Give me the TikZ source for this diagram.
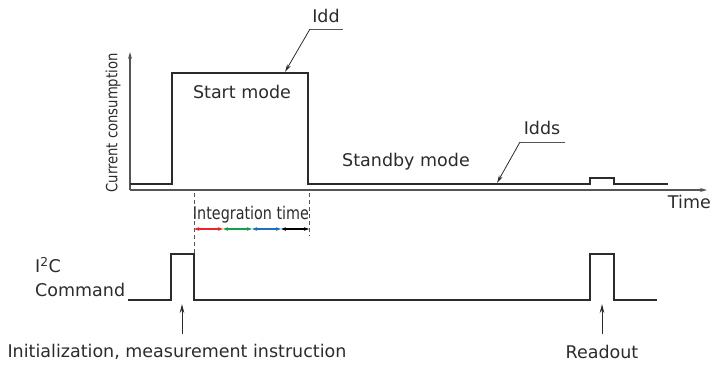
\documentclass[tikz,border=0pt]{standalone}
\usepackage{fontspec}
\usepackage{graphicx}
\setmainfont{DejaVu Sans}
\usetikzlibrary{arrows.meta}

\definecolor{inkgray}{HTML}{2B2B2B}
\definecolor{axisgray}{HTML}{555555}
\definecolor{itred}{HTML}{E8262B}
\definecolor{itgreen}{HTML}{12A14A}
\definecolor{itblue}{HTML}{1E6EC4}

\begin{document}
\begin{tikzpicture}[x=1pt,y=-1pt,
    axis/.style={draw=axisgray,line width=1.4pt,-{Stealth[length=7pt,width=4pt]}},
    signal/.style={draw=inkgray,line width=2.6pt,line join=miter},
    bus/.style={draw=inkgray,line width=1.3pt},
    leader/.style={draw=inkgray,line width=0.8pt,-{Stealth[length=8pt,width=4pt]}},
    underline/.style={draw=axisgray,line width=0.9pt},
    guide/.style={draw=axisgray,line width=0.9pt,dash pattern=on 4pt off 3pt},
    pointer/.style={draw=inkgray,line width=1pt,-{Stealth[length=9pt,width=4.5pt]}},
    span/.style={line width=1.2pt,{Stealth[length=5pt,width=3.5pt]}-{Stealth[length=5pt,width=3.5pt]}},
    lbl/.style={font=\fontsize{17.5}{20}\selectfont,text=inkgray,inner sep=0pt}]
    \useasboundingbox (0,0) rectangle (712,367);

    % Axes
    \coordinate (origin) at (130,190);
    \coordinate (ytip) at (130,52);
    \coordinate (xtip) at (707,190);
    \draw[axis] (origin) -- (ytip);
    \draw[axis] (origin) -- (xtip);
    \node[lbl,rotate=90] (ylabel) at (113,123) {\scalebox{0.85}[1]{\fontsize{15.5}{18}\selectfont Current consumption}};
    \node[lbl,anchor=north east] (xlabel) at (711,195) {Time};

    % Current consumption
    \draw[signal] (130,184) -- (172,184) -- (172,73) -- (308,73) -- (308,184)
        -- (590,184) -- (590,178) -- (614,178) -- (614,184) -- (668,184);
    \node[lbl] (start) at (242,92) {Start mode};
    \node[lbl] (standby) at (406,162) {Standby mode};

    % Idd / Idds labels
    \node[lbl] (idd) at (326,16) {Idd};
    \coordinate (iddl) at (310,29);
    \coordinate (iddr) at (343,29);
    \coordinate (iddp) at (285,72);
    \draw[underline] (iddl) -- (iddr);
    \draw[leader] (iddl) -- (iddp);
    \node[lbl] (idds) at (542,128) {Idds};
    \coordinate (iddsl) at (520,142);
    \coordinate (iddsr) at (565,142);
    \coordinate (iddsp) at (497,183);
    \draw[underline] (iddsl) -- (iddsr);
    \draw[leader] (iddsl) -- (iddsp);

    % Integration time
    \draw[guide] (194,193) -- (194,254);
    \draw[guide] (309,193) -- (309,236);
    \node[lbl] (itime) at (251,215) {\scalebox{0.82}[1]{Integration time}};
    \draw[span,draw=itred,fill=itred] (194,229) -- (223,229);
    \draw[span,draw=itgreen,fill=itgreen] (223,229) -- (252,229);
    \draw[span,draw=itblue,fill=itblue] (252,229) -- (281,229);
    \draw[span,draw=black,fill=black] (281,229) -- (309,229);

    % I2C command
    \draw[bus] (128,300) -- (171,300) -- (171,254) -- (194,254) -- (194,300)
        -- (590,300) -- (590,254) -- (614,254) -- (614,300) -- (657,300);
    \node[lbl,anchor=west] (i2c) at (35,265) {I\textsuperscript{2}C};
    \node[lbl,anchor=west] (cmd) at (35,290) {Command};

    % Pointers
    \node[lbl] (init) at (177,352) {Initialization, measurement instruction};
    \node[lbl] (readout) at (602,352) {Readout};
    \coordinate (initp) at (182,304);
    \coordinate (readp) at (602,304);
    \draw[pointer] (182,334) -- (initp);
    \draw[pointer] (602,334) -- (readp);
\end{tikzpicture}
\end{document}
